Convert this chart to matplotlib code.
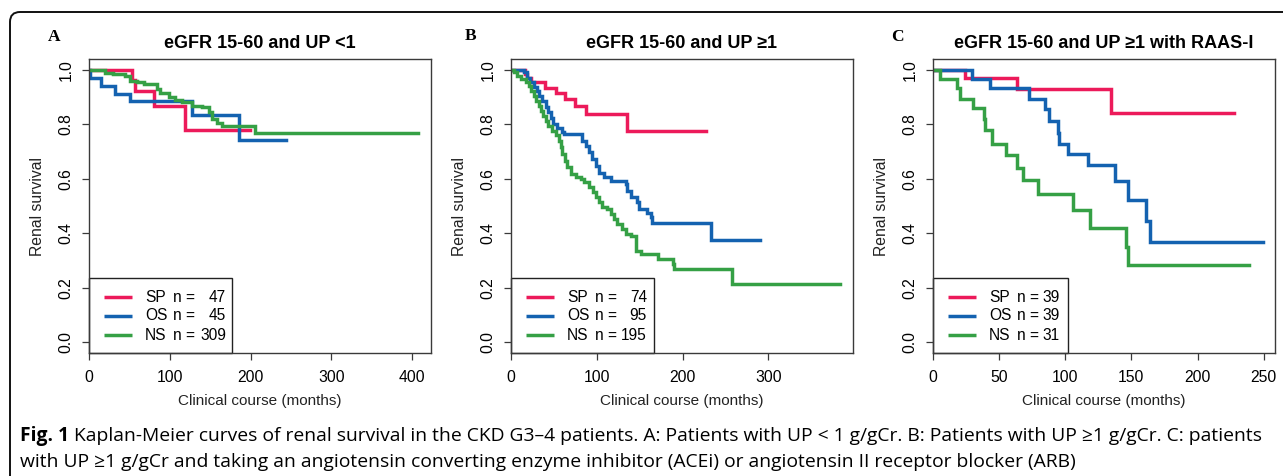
import matplotlib
matplotlib.use("Agg")
import matplotlib.pyplot as plt
from matplotlib.patches import Rectangle, FancyBboxPatch
from matplotlib.transforms import IdentityTransform

# ---------------- data ----------------
groups = ["SP", "OS", "NS"]
colors = ["#EC1A5A", "#1462B0", "#35A045"]

titles = ["eGFR 15-60 and UP <1", "eGFR 15-60 and UP \u22651", "eGFR 15-60 and UP \u22651 with RAAS-I"]
letters = ["A", "B", "C"]
n_A = [47, 45, 309]
n_B = [74, 95, 195]
n_C = [39, 39, 31]

xticks_A = [0, 100, 200, 300, 400]
xticks_B = [0, 100, 200, 300]
xticks_C = [0, 50, 100, 150, 200, 250]
yticks = [0.0, 0.2, 0.4, 0.6, 0.8, 1.0]

# Panel A (time in months, survival)
SP_A_t = [0, 53.7, 56.5, 80.1, 119.3, 199.8]
SP_A_s = [1.0, 0.962, 0.923, 0.867, 0.778, 0.778]
OS_A_t = [0, 0.9, 15.3, 31.8, 50.4, 128, 185.8, 243.6]
OS_A_s = [1.0, 0.971, 0.940, 0.911, 0.884, 0.836, 0.743, 0.743]
NS_A_t = [0, 19.4, 30, 45, 51.2, 59.5, 67.7, 84.3, 88.4, 98.7, 107, 115.2, 127.6, 140,
          148.2, 152.4, 158.5, 164.7, 206, 408]
NS_A_s = [1.0, 0.990, 0.985, 0.977, 0.961, 0.955, 0.949, 0.930, 0.915, 0.902, 0.891, 0.881,
          0.869, 0.863, 0.845, 0.820, 0.804, 0.793, 0.770, 0.770]

# Panel B
SP_B_t = [0, 16, 18.7, 23.8, 39.3, 52.9, 62.6, 74.3, 87.9, 135.7, 227]
SP_B_s = [1.0, 0.986, 0.972, 0.955, 0.934, 0.915, 0.894, 0.866, 0.839, 0.775, 0.775]
OS_B_t = [0, 15.2, 19.1, 22.2, 26.9, 30, 32.7, 36.6, 40.5, 43.2, 46.3, 49.4, 54.1, 59.9, 61.8,
          83.2, 87.1, 91, 94.9, 98.8, 102.7, 108.5, 116.3, 133.8, 135.7, 139.6, 147.4, 149.3,
          159, 162.9, 164.9, 233.6, 290.8]
OS_B_s = [1.0, 0.991, 0.972, 0.954, 0.936, 0.923, 0.905, 0.886, 0.862, 0.844, 0.825, 0.801,
          0.788, 0.772, 0.764, 0.740, 0.721, 0.697, 0.672, 0.648, 0.623, 0.605, 0.593, 0.581,
          0.556, 0.532, 0.513, 0.488, 0.476, 0.458, 0.437, 0.374, 0.374]
NS_B_t = [0, 3.5, 7.4, 11.3, 17.1, 21, 23.7, 26.9, 28.8, 32.7, 35.4, 37.7, 40.5, 43.2, 48.2,
          52.1, 56, 57.9, 59.9, 62.6, 65.7, 69.6, 75.4, 81.3, 85.2, 91, 96, 98.8, 102.7, 106.5,
          112.4, 116.2, 120.1, 124, 129.9, 133.7, 139.6, 146, 152, 171.6, 189, 190, 257.7, 384]
NS_B_s = [1.0, 0.991, 0.979, 0.966, 0.954, 0.942, 0.923, 0.905, 0.886, 0.868, 0.850, 0.831,
          0.813, 0.795, 0.776, 0.760, 0.740, 0.715, 0.691, 0.666, 0.642, 0.617, 0.605, 0.599,
          0.587, 0.568, 0.550, 0.532, 0.513, 0.495, 0.489, 0.471, 0.452, 0.434, 0.415, 0.397,
          0.391, 0.336, 0.322, 0.306, 0.286, 0.268, 0.215, 0.215]

# Panel C
SP_C_t = [0, 24.4, 63.6, 134.6, 227.3]
SP_C_s = [1.0, 0.970, 0.929, 0.842, 0.842]
OS_C_t = [0, 29.5, 43.3, 72.3, 84.9, 87.4, 94.5, 95.5, 101.8, 117.2, 137.8, 147.4, 161, 164.3, 249.3]
OS_C_s = [1.0, 0.968, 0.933, 0.892, 0.855, 0.8125, 0.770, 0.729, 0.690, 0.650, 0.592, 0.521,
          0.445, 0.369, 0.369]
NS_C_t = [0, 5.5, 18.1, 20.6, 30.2, 38.3, 39.6, 44.6, 55.2, 63.6, 68.1, 79.5, 105.9, 118.5,
          146.3, 147.3, 239.2]
NS_C_s = [1.0, 0.968, 0.933, 0.894, 0.859, 0.819, 0.778, 0.729, 0.6875, 0.641, 0.594, 0.545,
          0.484, 0.420, 0.349, 0.282, 0.282]

caption_bold = "Fig. 1"
caption_1 = ("Kaplan-Meier curves of renal survival in the CKD G3\u20134 patients. A: Patients with "
             "UP < 1 g/gCr. B: Patients with UP \u22651 g/gCr. C: patients")
caption_2 = ("with UP \u22651 g/gCr and taking an angiotensin converting enzyme inhibitor (ACEi) "
             "or angiotensin II receptor blocker (ARB)")

# ---------------- layout ----------------
W, H = 1283, 476
fig = plt.figure(figsize=(W / 100, H / 100), dpi=100)
fig.patch.set_facecolor("white")

SANS = ["Liberation Sans", "DejaVu Sans"]
CAP = ["Open Sans", "DejaVu Sans"]
FRAME = "#3a3a3a"
LW = 2.5

panels = [
    dict(box=(89, 59, 431, 353), xmax=423.5, xticks=xticks_A, n=n_A,
         curves=[(SP_A_t, SP_A_s), (OS_A_t, OS_A_s), (NS_A_t, NS_A_s)],
         letter_xy=(54, 37), leg_w=143, num_right=137),
    dict(box=(511, 59, 853, 353), xmax=398.7, xticks=xticks_B, n=n_B,
         curves=[(SP_B_t, SP_B_s), (OS_B_t, OS_B_s), (NS_B_t, NS_B_s)],
         letter_xy=(471, 36), leg_w=143, num_right=136),
    dict(box=(933, 59, 1275, 353), xmax=258.6, xticks=xticks_C, n=n_C,
         curves=[(SP_C_t, SP_C_s), (OS_C_t, OS_C_s), (NS_C_t, NS_C_s)],
         letter_xy=(897, 37), leg_w=135, num_right=127),
]

for i, p in enumerate(panels):
    l, t, r, b = p["box"]
    aw, ah = r - l, b - t
    ax = fig.add_axes([l / W, 1 - b / H, aw / W, ah / H])
    for (tt, ss), c in zip(p["curves"], colors):
        ax.step(tt, ss, where="post", color=c, lw=LW, solid_joinstyle="miter")
    ax.set_xlim(0, p["xmax"])
    ax.set_ylim(-0.04, 1.04)
    ax.set_xticks(p["xticks"])
    ax.set_xticklabels([str(v) for v in p["xticks"]], family=SANS, fontsize=11.3)
    ax.set_yticks(yticks)
    ax.set_yticklabels([f"{v:.1f}" for v in yticks], family=SANS, fontsize=11.3,
                       rotation=90, va="center")
    ax.tick_params(axis="both", direction="out", length=5, width=0.9, color=FRAME)
    ax.tick_params(axis="x", pad=7)
    ax.tick_params(axis="y", pad=6)
    for sp in ax.spines.values():
        sp.set_color(FRAME)
        sp.set_linewidth(1.0)

    ax.text(0.5, (b - 43) / ah, titles[i], transform=ax.transAxes, ha="center", va="center",
            family=SANS, fontsize=13, fontweight="bold")
    ax.text(-51 / aw, 0.5, "Renal survival",
            transform=ax.transAxes, rotation=90, ha="center", va="center",
            family=SANS, fontsize=11.3, color="#222222")
    ax.text(0.5, (b - 401) / ah, "Clinical course (months)", transform=ax.transAxes,
            ha="center", va="center", family=SANS, fontsize=11, color="#222222")

    lx, ly = p["letter_xy"]
    fig.text(lx / W, 1 - ly / H, letters[i], ha="center", va="center",
             family=["Liberation Serif", "DejaVu Serif"], fontsize=12.5, fontweight="bold")

    # legend box
    ax.add_patch(Rectangle((0, 0), p["leg_w"] / aw, 75 / ah, transform=ax.transAxes,
                           facecolor="none", edgecolor="#222222", lw=1.0, clip_on=False))
    rows = [56, 37, 18]
    for g, c, nv, ry in zip(groups, colors, p["n"], rows):
        yy = ry / ah
        ax.plot([15 / aw, 43 / aw], [yy, yy], transform=ax.transAxes, color=c, lw=LW,
                clip_on=False, solid_capstyle="butt")
        ax.text(56 / aw, yy, g, transform=ax.transAxes, ha="left", va="center",
                family=SANS, fontsize=11.2)
        ax.text(84 / aw, yy, "n =", transform=ax.transAxes, ha="left", va="center",
                family=SANS, fontsize=11.2)
        ax.text(p["num_right"] / aw, yy, str(nv), transform=ax.transAxes, ha="right",
                va="center", family=SANS, fontsize=11.2)

# outer rounded frame
frame = FancyBboxPatch((10, -30), 1300, H - 12 + 30, boxstyle="round,pad=0,rounding_size=10",
                       transform=IdentityTransform(), facecolor="none", edgecolor="#111111",
                       lw=1.4, clip_on=False)
fig.patches.append(frame)

# caption
CAPSIZE = 13.9
renderer = fig.canvas.get_renderer()
y1 = 1 - 436 / H
y2 = 1 - 462 / H
tb = fig.text(20 / W, y1, caption_bold, ha="left", va="center", family=CAP, fontsize=CAPSIZE,
              fontweight="bold")
bb = tb.get_window_extent(renderer)
fig.text((bb.x1 + 5) / W, y1, caption_1, ha="left", va="center", family=CAP, fontsize=CAPSIZE)
fig.text(20 / W, y2, caption_2, ha="left", va="center", family=CAP, fontsize=CAPSIZE)

fig.savefig("out.png", dpi=100, facecolor="white")
